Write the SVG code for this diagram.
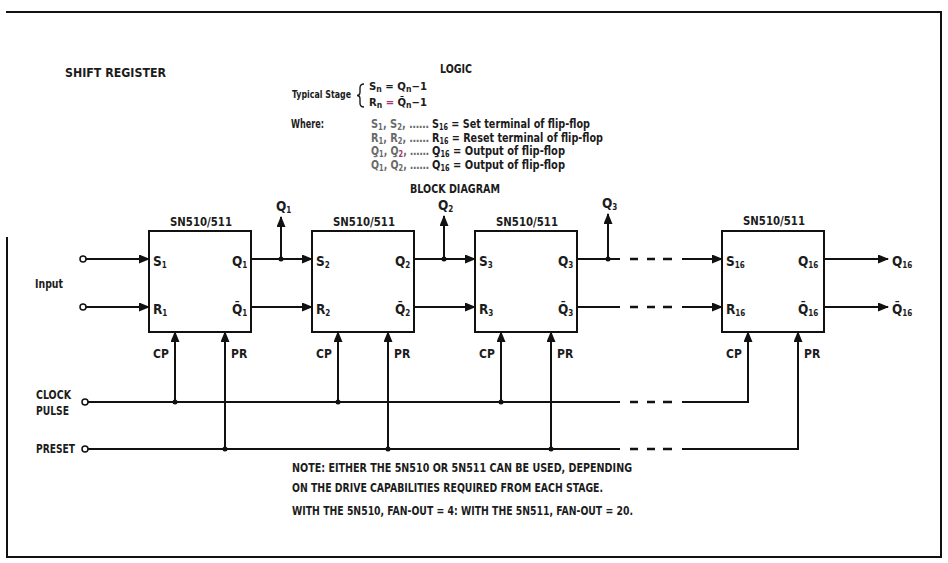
<svg xmlns="http://www.w3.org/2000/svg" width="948" height="563" viewBox="0 0 948 563">
<style>
text{font-family:"Liberation Sans Narrow","DejaVu Sans Condensed","Liberation Sans",sans-serif;font-weight:bold;fill:#1c1c1c;font-size:11.5px}
.p{font-size:13.5px}
.s{font-size:8px}
.box{fill:#fff;stroke:#111;stroke-width:2}
.w{fill:none;stroke:#111;stroke-width:2}
.d{fill:none;stroke:#111;stroke-width:2.5}
.dot{fill:#111}
.term{fill:#fff;stroke:#111;stroke-width:1.5}
.g{fill:#6a6a6a}
.m{fill:#a8326a}
.frame{fill:none;stroke:#111;stroke-width:2}
</style>
<defs>
<marker id="a" markerWidth="11" markerHeight="9" refX="10" refY="4.5" orient="auto" markerUnits="userSpaceOnUse"><path d="M0,0 L11,4.5 L0,9 Z" fill="#111"/></marker>
</defs>
<rect x="0" y="0" width="948" height="563" fill="#fff"/>
<path class="frame" d="M6,12 H941 V557 H7 V237"/>

<g id="titles">
<text x="65" y="77" textLength="101" lengthAdjust="spacingAndGlyphs">SHIFT REGISTER</text>
<text x="440" y="73" textLength="32" lengthAdjust="spacingAndGlyphs">LOGIC</text>
<text x="292" y="98" style="font-size:10.5px" textLength="59" lengthAdjust="spacingAndGlyphs">Typical Stage</text>
<path d="M364,84 Q360,84 360,88 V92 Q360,95.5 357,95.5 Q360,95.5 360,99 V103 Q360,107 364,107" fill="none" stroke="#1c1c1c" stroke-width="1.4"/>
<text x="369" y="90" style="font-size:10.5px" textLength="58" lengthAdjust="spacingAndGlyphs">S<tspan class="s" dy="1.5">n</tspan><tspan dy="-1.5"> = Q</tspan><tspan class="s" dy="1.5">n</tspan><tspan dy="-1.5">−1</tspan></text>
<text x="369" y="106" style="font-size:10.5px" textLength="58" lengthAdjust="spacingAndGlyphs">R<tspan class="s" dy="1.5">n</tspan><tspan dy="-1.5" class="m"> = </tspan><tspan>Q&#x304;</tspan><tspan class="s" dy="1.5">n</tspan><tspan dy="-1.5">−1</tspan></text>
<text x="291" y="128" style="font-size:12px" textLength="33" lengthAdjust="spacingAndGlyphs">Where:</text>
<text x="371" y="128" class="g" textLength="58" lengthAdjust="spacingAndGlyphs">S<tspan class="s" dy="2">1</tspan><tspan dy="-2">, S</tspan><tspan class="s" dy="2">2</tspan><tspan dy="-2">, ……</tspan></text>
<text x="432" y="128" style="font-size:12px" textLength="158" lengthAdjust="spacingAndGlyphs">S<tspan class="s" dy="2">16</tspan><tspan dy="-2"> = Set terminal of flip-flop</tspan></text>
<text x="371" y="141.5" class="g" textLength="58" lengthAdjust="spacingAndGlyphs">R<tspan class="s" dy="2">1</tspan><tspan dy="-2">, R</tspan><tspan class="s" dy="2">2</tspan><tspan dy="-2">, ……</tspan></text>
<text x="432" y="141.5" style="font-size:12px" textLength="171" lengthAdjust="spacingAndGlyphs">R<tspan class="s" dy="2">16</tspan><tspan dy="-2"> = Reset terminal of flip-flop</tspan></text>
<text x="371" y="155" class="g" textLength="58" lengthAdjust="spacingAndGlyphs">Q<tspan class="s" dy="2">1</tspan><tspan dy="-2">, Q</tspan><tspan class="s m" dy="2">2</tspan><tspan dy="-2">, ……</tspan></text>
<text x="432" y="155" style="font-size:12px" textLength="133" lengthAdjust="spacingAndGlyphs">Q<tspan class="s" dy="2">16</tspan><tspan dy="-2"> = Output of flip-flop</tspan></text>
<text x="371" y="168.5" class="g" textLength="58" lengthAdjust="spacingAndGlyphs">Q&#x304;<tspan class="s" dy="2">1</tspan><tspan dy="-2">, Q&#x304;</tspan><tspan class="s" dy="2">2</tspan><tspan dy="-2">, ……</tspan></text>
<text x="432" y="168.5" style="font-size:12px" textLength="133" lengthAdjust="spacingAndGlyphs">Q&#x304;<tspan class="s" dy="2">16</tspan><tspan dy="-2"> = Output of flip-flop</tspan></text>
<text x="410" y="193" textLength="90" lengthAdjust="spacingAndGlyphs">BLOCK DIAGRAM</text>
<text x="35" y="288" style="font-size:12px" textLength="28" lengthAdjust="spacingAndGlyphs">Input</text>
<text x="36" y="399" textLength="35" lengthAdjust="spacingAndGlyphs">CLOCK</text>
<text x="36" y="415" textLength="33" lengthAdjust="spacingAndGlyphs">PULSE</text>
<text x="36" y="453" textLength="39" lengthAdjust="spacingAndGlyphs">PRESET</text>
<text x="292" y="472" textLength="340" lengthAdjust="spacingAndGlyphs">NOTE: EITHER THE 5N510 OR 5N511 CAN BE USED, DEPENDING</text>
<text x="292" y="492" textLength="311" lengthAdjust="spacingAndGlyphs">ON THE DRIVE CAPABILITIES REQUIRED FROM EACH STAGE.</text>
<text x="292" y="515" textLength="341" lengthAdjust="spacingAndGlyphs">WITH THE 5N510, FAN-OUT = 4: WITH THE 5N511, FAN-OUT = 20.</text>
</g>

<g id="ff1">
<rect class="box" x="149" y="231" width="102" height="101"/>
<text x="170" y="226" textLength="62" lengthAdjust="spacingAndGlyphs">SN510/511</text>
<text class="p" x="153" y="266">S<tspan class="s" dy="2">1</tspan></text>
<text class="p" x="153" y="314">R<tspan class="s" dy="2">1</tspan></text>
<text class="p" x="232" y="266">Q<tspan class="s" dy="2">1</tspan></text>
<text class="p" x="232" y="314">Q&#x304;<tspan class="s" dy="2">1</tspan></text>
<text x="153" y="358" style="font-size:12px">CP</text>
<text x="231" y="358" style="font-size:12px">PR</text>
</g>
<g id="ff2">
<rect class="box" x="312" y="231" width="102" height="101"/>
<text x="333" y="226" textLength="62" lengthAdjust="spacingAndGlyphs">SN510/511</text>
<text class="p" x="316" y="266">S<tspan class="s" dy="2">2</tspan></text>
<text class="p" x="316" y="314">R<tspan class="s" dy="2">2</tspan></text>
<text class="p" x="395" y="266">Q<tspan class="s" dy="2">2</tspan></text>
<text class="p" x="395" y="314">Q&#x304;<tspan class="s" dy="2">2</tspan></text>
<text x="316" y="358" style="font-size:12px">CP</text>
<text x="394" y="358" style="font-size:12px">PR</text>
</g>
<g id="ff3">
<rect class="box" x="475" y="231" width="102" height="101"/>
<text x="496" y="226" textLength="62" lengthAdjust="spacingAndGlyphs">SN510/511</text>
<text class="p" x="479" y="266">S<tspan class="s" dy="2">3</tspan></text>
<text class="p" x="479" y="314">R<tspan class="s" dy="2">3</tspan></text>
<text class="p" x="558" y="266">Q<tspan class="s" dy="2">3</tspan></text>
<text class="p" x="558" y="314">Q&#x304;<tspan class="s" dy="2">3</tspan></text>
<text x="479" y="358" style="font-size:12px">CP</text>
<text x="557" y="358" style="font-size:12px">PR</text>
</g>
<g id="ff16">
<rect class="box" x="722" y="231" width="102" height="101"/>
<text x="743" y="225" textLength="62" lengthAdjust="spacingAndGlyphs">SN510/511</text>
<text class="p" x="726" y="266">S<tspan class="s" dy="2">16</tspan></text>
<text class="p" x="726" y="314">R<tspan class="s" dy="2">16</tspan></text>
<text class="p" x="798" y="266">Q<tspan class="s" dy="2">16</tspan></text>
<text class="p" x="798" y="314">Q&#x304;<tspan class="s" dy="2">16</tspan></text>
<text x="726" y="358" style="font-size:12px">CP</text>
<text x="804" y="358" style="font-size:12px">PR</text>
</g>

<g id="outputs">
<text class="p" x="276" y="211">Q<tspan class="s" dy="2">1</tspan></text>
<text class="p" x="438" y="210">Q<tspan class="s" dy="2">2</tspan></text>
<text class="p" x="602" y="208">Q<tspan class="s" dy="2">3</tspan></text>
<text class="p" x="892" y="266">Q<tspan class="s" dy="2">16</tspan></text>
<text class="p" x="892" y="314">Q&#x304;<tspan class="s" dy="2">16</tspan></text>
</g>

<g id="connectors">
<circle class="term" cx="83" cy="259" r="3"/>
<circle class="term" cx="83" cy="307" r="3"/>
<path class="w" d="M86,259 H149" marker-end="url(#a)"/>
<path class="w" d="M86,307 H149" marker-end="url(#a)"/>
<path class="w" d="M251,259 H312" marker-end="url(#a)"/>
<path class="w" d="M251,307 H312" marker-end="url(#a)"/>
<path class="w" d="M281,259 V217" marker-end="url(#a)"/>
<circle class="dot" cx="281" cy="259" r="2.5"/>
<path class="w" d="M414,259 H475" marker-end="url(#a)"/>
<path class="w" d="M414,307 H475" marker-end="url(#a)"/>
<path class="w" d="M444,259 V216" marker-end="url(#a)"/>
<circle class="dot" cx="444" cy="259" r="2.5"/>
<path class="w" d="M577,259 H620"/>
<path class="w" d="M577,307 H620"/>
<path class="w" d="M608,259 V214" marker-end="url(#a)"/>
<circle class="dot" cx="608" cy="259" r="2.5"/>
<path class="d" d="M630,259 H638 M647,259 H655 M663,259 H672 M630,307 H638 M647,307 H655 M663,307 H672"/>
<path class="w" d="M682,259 H722" marker-end="url(#a)"/>
<path class="w" d="M682,307 H722" marker-end="url(#a)"/>
<path class="w" d="M824,259 H888" marker-end="url(#a)"/>
<path class="w" d="M824,307 H888" marker-end="url(#a)"/>

<circle class="term" cx="85" cy="402" r="3"/>
<path class="w" d="M88,402 H620"/>
<path class="d" d="M630,402 H638 M647,402 H655 M663,402 H672 M630,449 H638 M647,449 H655 M663,449 H672"/>
<path class="w" d="M682,402 H748 V332" marker-end="url(#a)"/>
<path class="w" d="M175,402 V332" marker-end="url(#a)"/>
<path class="w" d="M338,402 V332" marker-end="url(#a)"/>
<path class="w" d="M501,402 V332" marker-end="url(#a)"/>
<circle class="dot" cx="175" cy="402" r="2.5"/>
<circle class="dot" cx="338" cy="402" r="2.5"/>
<circle class="dot" cx="501" cy="402" r="2.5"/>

<circle class="term" cx="85" cy="449" r="3"/>
<path class="w" d="M88,449 H620"/>
<path class="w" d="M682,449 H798 V332" marker-end="url(#a)"/>
<path class="w" d="M225,449 V332" marker-end="url(#a)"/>
<path class="w" d="M388,449 V332" marker-end="url(#a)"/>
<path class="w" d="M551,449 V332" marker-end="url(#a)"/>
<circle class="dot" cx="225" cy="449" r="2.5"/>
<circle class="dot" cx="388" cy="449" r="2.5"/>
<circle class="dot" cx="551" cy="449" r="2.5"/>
</g>
</svg>
